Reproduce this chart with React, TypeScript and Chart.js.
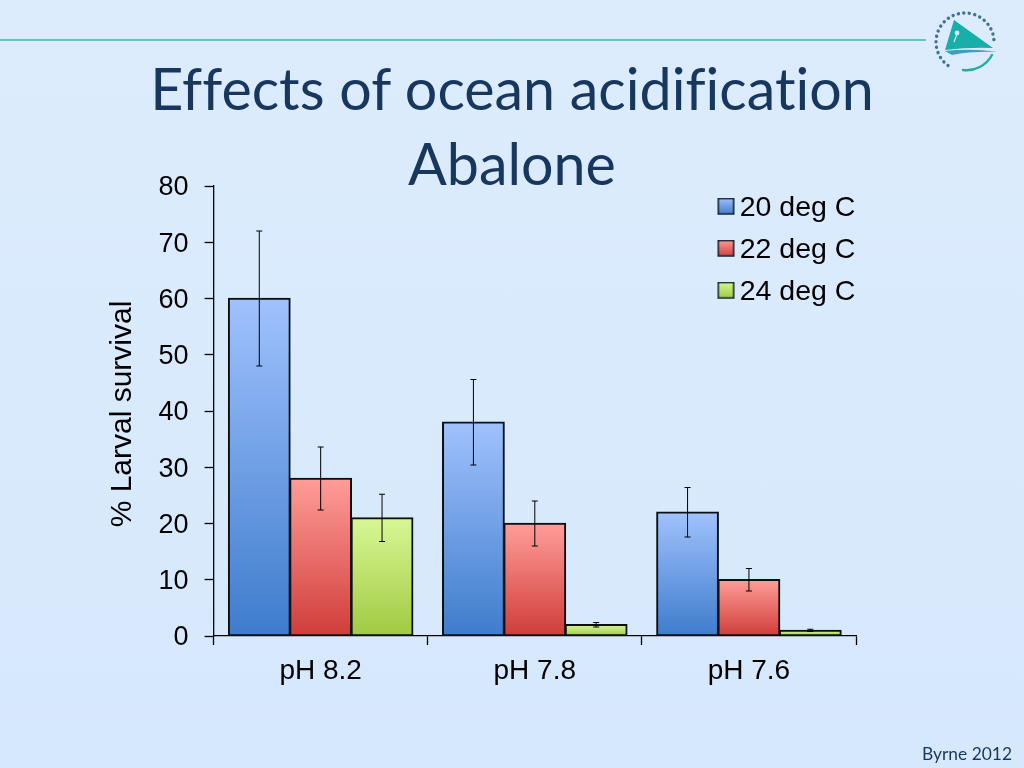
import React, { useEffect, useRef } from "react";
import { Chart, registerables } from "chart.js";

Chart.register(...registerables);

const categories = ["pH 8.2", "pH 7.8", "pH 7.6"];
const seriesNames = ["20 deg C", "22 deg C", "24 deg C"];
const survival20 = [60, 38, 22];
const survival22 = [28, 20, 10];
const survival24 = [21, 2, 1];
const error20 = [12, 7.6, 4.4];
const error22 = [5.6, 4, 2];
const error24 = [4.2, 0.4, 0.2];
const yTicks = [0, 10, 20, 30, 40, 50, 60, 70, 80];

const gradients = [
  ["#a0c2fd", "#3e7ccc"],
  ["#ff9d98", "#d03d3a"],
  ["#d8f795", "#a1c942"],
];
const FONT = "'Liberation Sans', Arial, sans-serif";

function barFill(index: number) {
  return (ctx: any) => {
    const { chart, parsed } = ctx;
    const yScale = chart.scales.y;
    if (!parsed || !yScale) return gradients[index][0];
    const g = chart.ctx.createLinearGradient(0, yScale.getPixelForValue(parsed.y), 0, yScale.getPixelForValue(0));
    g.addColorStop(0, gradients[index][0]);
    g.addColorStop(1, gradients[index][1]);
    return g;
  };
}

// Swatch sits off-centre in a transparent canvas so the legend's fixed box-to-text gap can be tightened.
function legendSwatch(index: number) {
  const c = document.createElement("canvas");
  c.width = 21;
  c.height = 20;
  const x = c.getContext("2d")!;
  const g = x.createLinearGradient(0, 0, 0, 17);
  g.addColorStop(0, gradients[index][0]);
  g.addColorStop(1, gradients[index][1]);
  x.fillStyle = g;
  x.fillRect(3, 0, 17, 17);
  x.strokeStyle = "#10202c";
  x.lineWidth = 1.5;
  x.strokeRect(3.75, 0.75, 15.5, 15.5);
  return c;
}

const errorBars = {
  id: "errorBars",
  afterDatasetsDraw(chart: any) {
    const { ctx } = chart;
    const errs = [error20, error22, error24];
    ctx.save();
    ctx.strokeStyle = "#000";
    ctx.lineWidth = 1;
    chart.data.datasets.forEach((ds: any, i: number) => {
      const meta = chart.getDatasetMeta(i);
      meta.data.forEach((bar: any, j: number) => {
        const top = chart.scales.y.getPixelForValue(ds.data[j] + errs[i][j]);
        const bot = chart.scales.y.getPixelForValue(ds.data[j] - errs[i][j]);
        ctx.beginPath();
        ctx.moveTo(bar.x, top);
        ctx.lineTo(bar.x, bot);
        ctx.moveTo(bar.x - 3, top);
        ctx.lineTo(bar.x + 3, top);
        ctx.moveTo(bar.x - 3, bot);
        ctx.lineTo(bar.x + 3, bot);
        ctx.stroke();
      });
    });
    ctx.restore();
  },
};

const placeLegend = {
  id: "placeLegend",
  beforeDraw(chart: any) {
    const l = chart.legend;
    l.left = 711;
    l.top = 180;
    l.right = 1024;
    l.bottom = 320;
    l.width = l.right - l.left;
    l.height = l.bottom - l.top;
  },
};

export default function App() {
  const ref = useRef<HTMLCanvasElement>(null);
  useEffect(() => {
    document.body.style.margin = "0";
    const chart = new Chart(ref.current!, {
      type: "bar",
      plugins: [errorBars, placeLegend],
      data: {
        labels: categories,
        datasets: [survival20, survival22, survival24].map((d, i) => ({
          label: seriesNames[i],
          data: d,
          backgroundColor: barFill(i),
          borderColor: "#0a0f14",
          borderWidth: 2,
          borderSkipped: false,
          inflateAmount: 0.7,
          barPercentage: 1,
          categoryPercentage: 0.86,
        })),
      },
      options: {
        responsive: false,
        animation: false,
        devicePixelRatio: 1,
        layout: { padding: { top: 186, right: 168, left: 0, bottom: 0 } },
        plugins: {
          title: { display: false },
          tooltip: { enabled: false },
          legend: {
            position: "chartArea",
            align: "start",
            labels: {
              color: "#000",
              font: { family: FONT, size: 28.5 },
              usePointStyle: true,
              boxHeight: 1,
              boxWidth: 1,
              padding: 13.5,
              generateLabels: () =>
                seriesNames.map((n, i) => ({
                  text: n,
                  pointStyle: legendSwatch(i),
                  datasetIndex: i,
                  fontColor: "#000",
                  lineWidth: 0,
                })),
            },
          },
        },
        scales: {
          x: {
            afterFit(s: any) {
              s.height = 132;
            },
            offset: true,
            border: { color: "#000", width: 1.3 },
            grid: { offset: true, drawOnChartArea: false, tickLength: 9, tickColor: "#000", tickWidth: 1.3 },
            ticks: { color: "#000", font: { family: FONT, size: 28 }, padding: 9, maxRotation: 0 },
          },
          y: {
            min: 0,
            max: 80,
            afterFit(s: any) {
              s.width = 213.6;
              if (!s.__titleShifted) {
                s.__titleShifted = true;
                const drawTitle = s.drawTitle;
                s.drawTitle = function (...args: any[]) {
                  const { top, bottom } = this;
                  this.top = top + 3;
                  this.bottom = bottom + 3;
                  drawTitle.apply(this, args);
                  this.top = top;
                  this.bottom = bottom;
                };
              }
            },
            afterBuildTicks(s: any) {
              s.ticks = yTicks.map((value) => ({ value }));
            },
            border: { color: "#000", width: 1.3 },
            grid: { drawOnChartArea: false, tickLength: 9, tickColor: "#000", tickWidth: 1.3 },
            ticks: { color: "#000", font: { family: FONT, size: 27 }, padding: 16, labelOffset: 2 },
            title: {
              display: true,
              text: "% Larval survival",
              color: "#000",
              font: { family: FONT, size: 30 },
              padding: { top: 105, bottom: 0 },
            },
          },
        },
      } as any,
    });
    return () => chart.destroy();
  }, []);

  const dots = "M 948 65.5 A 29 29 0 1 1 994 43";
  return (
    <div style={{ position: "fixed", left: 0, top: 0, width: 1024, height: 768, overflow: "hidden", background: "linear-gradient(#dcecfd, #d6e8fc)" }}>
      <canvas ref={ref} width={1024} height={768} style={{ position: "absolute", left: 0, top: 0, width: 1024, height: 768 }} />
      <div style={{ position: "absolute", left: 0, top: 39, width: 926, height: 2, background: "#62c4bd" }} />
      <div style={{ position: "absolute", left: 0, top: 50, width: 1024, textAlign: "center", fontFamily: "Lato, sans-serif", fontVariantLigatures: "none", fontSize: 57.4, lineHeight: "75px", color: "#17375e" }}>
        Effects of ocean acidification
        <br />
        Abalone
      </div>
      <div style={{ position: "absolute", right: 12, top: 743, fontFamily: "Lato, sans-serif", fontSize: 17.4, color: "#17375e" }}>Byrne 2012</div>
      <svg style={{ position: "absolute", left: 0, top: 0 }} width={1024} height={100}>
        <path d={dots} fill="none" stroke="#3f7690" strokeWidth={3.4} strokeLinecap="round" strokeDasharray="0.1 5.4" />
        <path d="M 992 55 A 29 29 0 0 1 963 70" fill="none" stroke="#1fae9f" strokeWidth={2.4} strokeLinecap="round" />
        <path d="M 954 20 L 993 48 Q 970 47 945 50 Z" fill="#18aeaa" />
        <path d="M 945 51 Q 970 48 998 52 Q 972 51 952 55 Z" fill="#3a9fc0" />
        <circle cx={957} cy={33} r={2.4} fill="#d8ecf6" />
        <path d="M 957 34 L 954 42" stroke="#d8ecf6" strokeWidth={1.2} />
      </svg>
    </div>
  );
}
